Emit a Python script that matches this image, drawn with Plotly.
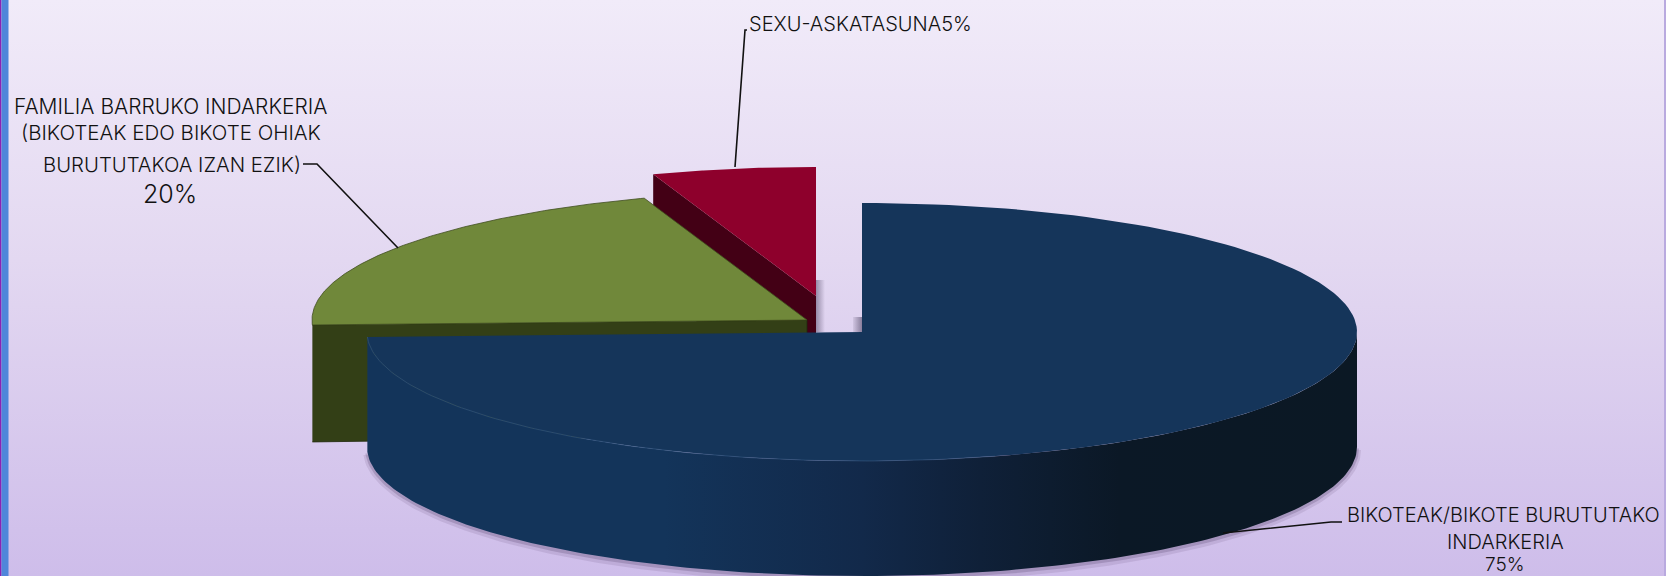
import numpy as np
import plotly.graph_objects as go

# ---- data ----
categories = ["BIKOTEAK/BIKOTE BURUTUTAKO INDARKERIA",
              "FAMILIA BARRUKO INDARKERIA (BIKOTEAK EDO BIKOTE OHIAK BURUTUTAKOA IZAN EZIK)",
              "SEXU-ASKATASUNA"]
shares = [75, 20, 5]
top_colors = ["#15355a", "#70883a", "#8e002c"]
wall_colors = ["#13335a", "#333f16", "#430015"]

# ---- pie projection (style) ----
W, H = 1666, 576
RX, RY, DEPTH = 495, 129, 115
centres = [(862, 332), (807, 320), (816, 296)]   # exploded slice apexes
FONT = "Inter"
INK = "#111111"


def seen_angle(t):
    """Sweep angle (deg) to the angle seen through the chart's slight perspective."""
    return np.interp(t, [0, 270, 342, 360], [0, 267.8, 340.8, 360])


def rim(c, a0, a1, dy=0, grow=0):
    a = np.radians(np.linspace(a0, a1, 160))
    return c[0] + (RX + grow) * np.sin(a), c[1] + dy - (RY + grow) * np.cos(a)


cum = np.concatenate([[0], np.cumsum(shares)]) * 3.6
bounds = [(float(seen_angle(cum[i])), float(seen_angle(cum[i + 1]))) for i in range(3)]

fig = go.Figure()


def poly(x, y, color=None, line=None, width=0, gradient=None):
    kw = dict(x=list(x), y=list(y), mode="lines", fill="toself",
              hoverinfo="skip", showlegend=False,
              line=dict(color=line or "rgba(0,0,0,0)", width=width))
    if gradient:
        kw["fillgradient"] = gradient
    else:
        kw["fillcolor"] = color
    fig.add_trace(go.Scatter(**kw))


# background
poly([0, W, W, 0], [0, 0, H, H], gradient=dict(
    type="vertical",
    colorscale=[[0, "#cebdea"], [0.55, "#e3d8f1"], [1, "#f1ebf9"]]))
poly([0, 1.5, 1.5, 0], [0, 0, H, H], "#8a22b4")
poly([1.5, 8.5, 8.5, 1.5], [0, 0, H, H], "#4f86da")
poly([W - 2, W, W, W - 2], [0, 0, H, H], "#b9aadf")

# red slice (back)
c = centres[2]
a0, a1 = bounds[2]
xr, yr = rim(c, a0, a1)
poly([c[0], c[0] + 9, c[0] + 9, c[0]], [c[1] - 16, c[1] - 16, c[1] + 36, c[1] + 36],
     gradient=dict(type="horizontal",
                   colorscale=[[0, "rgba(90,80,110,0.55)"], [1, "rgba(90,80,110,0)"]]))
poly([xr[0], c[0], c[0], xr[0]], [yr[0], c[1], c[1] + DEPTH, yr[0] + DEPTH], wall_colors[2])
poly(list(xr) + [c[0]], list(yr) + [c[1]], top_colors[2])

# green slice
c = centres[1]
a0, a1 = bounds[1]
xg, yg = rim(c, a0, a1)
poly([xg[0], c[0], c[0], xg[0]], [yg[0], c[1], c[1] + DEPTH, yg[0] + DEPTH + 2],
     wall_colors[1], "#20280c", 0.8)
poly([c[0]] + list(xg) + [c[0]], [c[1]] + list(yg) + [c[1]], top_colors[1], "#3f4c1e", 0.8)

# navy slice (front)
c = centres[0]
a0, a1 = bounds[0]
for grow, dy, alpha in [(4, 3, 0.12), (2, 1.5, 0.22)]:
    xs, ys = rim(c, 90, a1, dy=DEPTH + dy, grow=grow)
    poly(xs, ys, f"rgba(70,50,90,{alpha})")
poly([c[0] - 9, c[0], c[0], c[0] - 9], [c[1] - 15, c[1] - 15, c[1], c[1]],
     gradient=dict(type="horizontal",
                   colorscale=[[0, "rgba(90,80,110,0.1)"], [1, "rgba(90,80,110,0.65)"]]))
xt, yt = rim(c, 90, a1)
xb, yb = rim(c, a1, 90, dy=DEPTH)
poly(list(xt) + list(xb), list(yt) + list(yb), gradient=dict(
    type="horizontal",
    colorscale=[[0, "#13345a"], [0.30, "#13345a"], [0.50, "#12294a"], [0.62, "#0f2038"],
                [0.76, "#0b1826"], [1, "#0b1824"]]))
xn, yn = rim(c, 0, a1)
poly([c[0]] + list(xn) + [c[0]], [c[1]] + list(yn) + [c[1]], top_colors[0])
xe, ye = rim(c, 100, a1)
mask = xe < 1000
fig.add_trace(go.Scatter(x=xe[mask], y=ye[mask], mode="lines", hoverinfo="skip", showlegend=False,
                         line=dict(color="rgba(70,105,150,0.55)", width=0.8)))

# leader lines
leaders = [([1223, 1331, 1342], [533, 522, 522]),
           ([303, 317, 398], [164, 164, 248]),
           ([747, 745, 735], [30, 30, 167])]
for lx, ly in leaders:
    fig.add_trace(go.Scatter(x=lx, y=ly, mode="lines", hoverinfo="skip", showlegend=False,
                             line=dict(color="#111111", width=1.6)))

# label lines: text, centre x, centre y, size
labels = [("BIKOTEAK/BIKOTE BURUTUTAKO", 1503, 515, 20),
          ("INDARKERIA", 1505, 542, 20),
          ("75%", 1505, 564, 19),
          ("FAMILIA BARRUKO INDARKERIA", 170, 106, 21),
          ("(BIKOTEAK EDO BIKOTE OHIAK", 171, 132, 20.5),
          ("BURUTUTAKOA IZAN EZIK)", 172, 164, 20.3),
          ("20%", 170, 194, 25),
          ("SEXU-ASKATASUNA5%", 860, 24, 20)]
annotations = [dict(text=t, x=x, y=y, xref="x", yref="y", showarrow=False,
                    xanchor="center", yanchor="middle",
                    font=dict(family=FONT, size=s, color=INK, weight=300))
               for t, x, y, s in labels]

fig.update_layout(
    width=W, height=H, margin=dict(l=0, r=0, t=0, b=0),
    paper_bgcolor="#e6dcf3", plot_bgcolor="rgba(0,0,0,0)", showlegend=False,
    xaxis=dict(range=[0, W], visible=False, fixedrange=True),
    yaxis=dict(range=[H, 0], visible=False, fixedrange=True),
    annotations=annotations,
)
fig.write_html("out.html", config={"displayModeBar": False},
               post_script="document.body.style.margin='0';document.body.style.overflow='hidden';")
